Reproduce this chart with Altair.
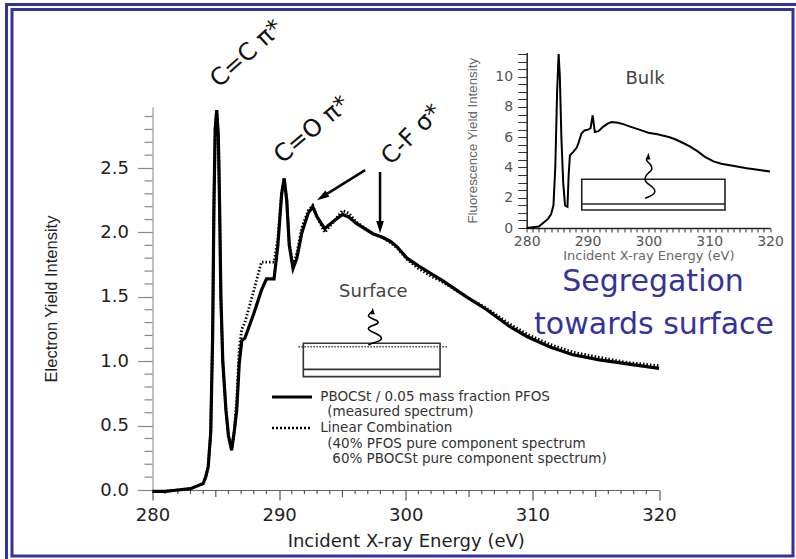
import altair as alt
import pandas as pd

# ---------------- C K-edge NEXAFS, electron yield (surface sensitive) ----------------
energy = [280.0, 281.0, 282.0, 283.0, 283.5, 284.0, 284.2, 284.4, 284.6, 284.75,
          284.85, 284.95, 285.07, 285.2, 285.3, 285.4, 285.55, 285.8, 286.0, 286.25,
          286.45, 286.65, 286.85, 287.05, 287.3, 288.0, 288.6, 289.0, 289.6, 289.9,
          290.2, 290.4, 290.6, 290.8, 291.1, 291.4, 291.8, 292.3, 292.65, 293.0,
          293.6, 294.2, 295.0, 295.5, 296.1, 297.4, 298.2, 298.8, 299.3, 300.1,
          301.0, 302.0, 303.0, 304.8, 306.4, 308.2, 309.6, 311.4, 313.2, 315.3,
          317.5, 320.0]
measured = [-0.01, -0.01, 0.0, 0.01, 0.03, 0.05, 0.1, 0.18, 0.45, 1.2,
            2.2, 2.8, 2.95, 2.75, 2.2, 1.5, 1.0, 0.62, 0.42, 0.31,
            0.45, 0.62, 0.98, 1.16, 1.18, 1.37, 1.55, 1.64, 1.64, 1.9,
            2.3, 2.42, 2.25, 1.9, 1.72, 1.8, 2.0, 2.15, 2.2, 2.12,
            2.03, 2.08, 2.14, 2.12, 2.07, 1.99, 1.96, 1.93, 1.89, 1.80,
            1.74, 1.68, 1.62, 1.50, 1.40, 1.27, 1.19, 1.11, 1.05, 1.01,
            0.98, 0.945]
linear_comb = [-0.01, -0.01, 0.0, 0.01, 0.03, 0.05, 0.1, 0.18, 0.45, 1.2,
               2.2, 2.8, 2.95, 2.75, 2.2, 1.5, 1.0, 0.62, 0.42, 0.31,
               0.45, 0.7, 1.1, 1.25, 1.3, 1.55, 1.77, 1.77, 1.77, 1.95,
               2.3, 2.42, 2.25, 1.92, 1.74, 1.84, 2.04, 2.17, 2.21, 2.12,
               2.0, 2.07, 2.17, 2.15, 2.08, 1.99, 1.96, 1.92, 1.88, 1.79,
               1.72, 1.66, 1.61, 1.50, 1.41, 1.29, 1.21, 1.13, 1.07, 1.03,
               0.99, 0.965]

# ---------------- inset: fluorescence yield (bulk sensitive) ----------------
bulk_energy = [280.0, 281.0, 282.0, 282.7, 283.5, 284.0, 284.4, 284.7, 285.0, 285.25,
               285.45, 285.7, 286.0, 286.3, 286.7, 286.9, 287.1, 287.7, 288.2, 288.5,
               289.0, 289.5, 290.1, 290.5, 290.85, 291.2, 291.8, 292.6, 293.3, 294.0,
               295.0, 296.0, 297.0, 298.5, 300.0, 301.5, 302.5, 303.5, 304.5, 305.8,
               306.8, 308.0, 309.3, 310.7, 312.0, 313.4, 314.8, 316.2, 318.0, 320.0]
bulk_yield = [0.0, 0.05, 0.1, 0.33, 0.6, 0.9, 1.5, 4.0, 9.0, 11.5,
              10.0, 6.0, 3.0, 1.5, 1.4, 3.5, 4.8, 5.05, 5.3, 5.6,
              6.25, 6.45, 6.5, 6.6, 7.45, 6.35, 6.4, 6.7, 6.9, 7.0,
              6.95, 6.85, 6.7, 6.5, 6.3, 6.2, 6.1, 6.0, 5.85, 5.6,
              5.4, 5.1, 4.7, 4.4, 4.25, 4.15, 4.05, 3.95, 3.85, 3.73]

# ---------------- axis tick values ----------------
x_major = [280, 290, 300, 310, 320]
x_medium = [285, 295, 305, 315]
x_minor = [e for e in range(281, 320) if e % 5 != 0]
y_major = [0.0, 0.5, 1.0, 1.5, 2.0, 2.5]
y_minor = [round(i * 0.1, 1) for i in range(1, 30) if i % 5 != 0]
inset_x_ticks = list(range(280, 321))
inset_y_ticks = [i * 0.5 for i in range(24)]

# ---------------- annotations ----------------
peak_text = ["C=C π*", "C=O π*", "C-F σ*"]
peak_e = [287.46, 292.6, 300.5]
peak_v = [3.385, 2.795, 2.757]
peak_angle = [318, 320, 315]

arrow_e0 = [296.79, 297.97]
arrow_v0 = [2.484, 2.469]
arrow_e1 = [293.40, 297.97]
arrow_v1 = [2.276, 2.042]
arrow_angle = [238, 180]

legend_text = ["PBOCSt / 0.05 mass fraction PFOS", "(measured spectrum)",
               "Linear Combination", "(40% PFOS pure component spectrum",
               "60% PBOCSt pure component spectrum)"]
legend_e = [293.25, 293.8, 293.25, 293.8, 294.2]
legend_v = [0.722, 0.602, 0.481, 0.361, 0.241]
legend_line_e = [289.44, 292.6]
legend_solid_v = 0.722
legend_dotted_v = 0.481

# surface-sensitivity sketch (main axes units)
surf_box = dict(x0=291.91, x1=302.71, y0=0.880, y1=1.139)
surf_layer_v = 0.937
surf_top = dict(x0=291.52, x1=303.36, y=1.113)
surf_wave_e = [297.05, 297.31, 298.23, 297.97, 296.97, 297.05, 297.97, 297.71, 296.92, 297.18, 297.39]
surf_wave_v = [1.126, 1.139, 1.165, 1.203, 1.242, 1.268, 1.294, 1.320, 1.345, 1.372, 1.39]
surf_label = ("Surface", 297.44, 1.540)

# bulk-sensitivity sketch (inset axes units)
bulk_box = dict(x0=289.05, x1=312.6, y0=1.19, y1=3.22)
bulk_layer_v = 1.59
bulk_wave_e = [299.46, 301.38, 300.82, 299.18, 299.74, 300.82, 300.28, 299.46, 300.0]
bulk_wave_v = [1.96, 2.29, 2.73, 3.06, 3.62, 3.83, 4.28, 4.49, 4.75]
bulk_label = ("Bulk", 299.46, 9.85)

slide_text = ["Segregation", "towards surface"]
slide_e = [319.53, 319.61]
slide_v = [1.545, 1.211]

# ---------------- layout ----------------
W, H = 506.5, 383
PAD = {"left": 152.5, "top": 107, "right": 137, "bottom": 69}
FONT = "DejaVu Sans"
BLUE = "#333399"
ARROW = "M0,-1L0.62,1L-0.62,1Z"

X_MAIN = alt.Scale(domain=[280, 320], nice=False, zero=False)
Y_MAIN = alt.Scale(domain=[0, 2.974], nice=False, zero=False)
AX_X = alt.Axis(orient="bottom", title="Incident X-ray Energy (eV)", values=x_major, format="d",
                grid=False, tickSize=10, tickColor="#555", tickWidth=1.2,
                domainColor="#666", domainWidth=1.2, labelFont=FONT, labelFontSize=18,
                labelColor="#222", labelPadding=6, labelFlush=False,
                titleFont=FONT, titleFontSize=18, titleFontWeight="normal",
                titleColor="#222", titlePadding=8)
AX_Y = alt.Axis(orient="left", title="Electron Yield Intensity", values=y_major, format=".1f",
                grid=False, tickSize=15, tickColor="#888", tickWidth=1.2,
                domainColor="#999", domainWidth=1.2, labelFont=FONT, labelFontSize=18,
                labelColor="#222", labelPadding=9,
                titleFont="Liberation Sans", titleFontSize=16.5, titleFontWeight="normal",
                titleColor="#222", titlePadding=40)


def mx(f):
    return alt.X(f, type="quantitative", scale=X_MAIN, axis=AX_X)


def my(f):
    return alt.Y(f, type="quantitative", scale=Y_MAIN, axis=AX_Y)


X_IN = alt.Scale(domain=[280, 320], range=[374.2, 617.5], nice=False, zero=False)
Y_IN = alt.Scale(domain=[0, 11.6], range=[121, -54.5], nice=False, zero=False)
AX_XI = alt.Axis(orient="bottom", offset=-262, title="Incident X-ray  Energy  (eV)",
                 values=inset_x_ticks, format="d",
                 labelExpr="datum.value % 10 == 0 ? datum.label : ''",
                 grid=False, tickSize=4, tickColor="#333", tickWidth=1,
                 domainColor="#222", domainWidth=1.5, labelFont=FONT, labelFontSize=14,
                 labelColor="#555", labelPadding=2, labelFlush=False, labelOverlap=False,
                 titleFont=FONT, titleFontSize=13, titleFontWeight="normal",
                 titleColor="#666", titlePadding=1)
AX_YI = alt.Axis(orient="left", offset=-374.2, title="Fluorescence Yield Intensity",
                 values=inset_y_ticks,
                 labelExpr="datum.value % 2 == 0 ? format(datum.value, 'd') : ''",
                 grid=False, tickSize=9, tickColor="#333", tickWidth=1,
                 domainColor="#222", domainWidth=1.5, labelFont=FONT, labelFontSize=14,
                 labelColor="#555", labelPadding=5, labelOverlap=False,
                 titleFont="Liberation Sans", titleFontSize=13.3, titleFontWeight="normal",
                 titleColor="#666", titlePadding=15)


def ix(f):
    return alt.X(f, type="quantitative", scale=X_IN, axis=AX_XI)


def iy(f):
    return alt.Y(f, type="quantitative", scale=Y_IN, axis=AX_YI)


one = pd.DataFrame({"k": [0]})

# ---------------- main panel ----------------
frame_outer = alt.Chart(one).mark_rect(fillOpacity=0, stroke=BLUE, strokeWidth=3).encode(
    x=alt.value(-146), x2=alt.value(648), y=alt.value(-102.5), y2=alt.value(458))
frame_inner = alt.Chart(one).mark_rect(fillOpacity=0, stroke=BLUE, strokeWidth=3).encode(
    x=alt.value(-140.5), x2=alt.value(640.5), y=alt.value(-97.5), y2=alt.value(449))

spec = pd.DataFrame({"e": energy, "m": measured, "l": linear_comb})
solid = alt.Chart(spec).mark_line(color="black", strokeWidth=3.2).encode(x=mx("e"), y=my("m"))
dotted = alt.Chart(spec).mark_line(color="black", strokeWidth=2.8, strokeDash=[1.5, 2]).encode(
    x=mx("e"), y=my("l"))

y_minor_ticks = alt.Chart(pd.DataFrame({"v": y_minor})).mark_rule(color="#888", strokeWidth=1.2).encode(
    y=my("v"), x=alt.value(-8), x2=alt.value(0))
x_med_ticks = alt.Chart(pd.DataFrame({"e": x_medium})).mark_rule(color="#555", strokeWidth=1.2).encode(
    x=mx("e"), y=alt.value(H), y2=alt.value(H + 7))
x_minor_ticks = alt.Chart(pd.DataFrame({"e": x_minor})).mark_rule(color="#555", strokeWidth=1.2).encode(
    x=mx("e"), y=alt.value(H), y2=alt.value(H + 4))

peaks = alt.Chart(pd.DataFrame({"t": peak_text, "e": peak_e, "v": peak_v, "a": peak_angle})).mark_text(
    font=FONT, fontSize=24, color="#111", align="center", baseline="middle").encode(
    x=mx("e"), y=my("v"), text="t:N", angle=alt.Angle("a:Q", scale=None))

arrows_df = pd.DataFrame({"e0": arrow_e0, "v0": arrow_v0, "e1": arrow_e1, "v1": arrow_v1, "a": arrow_angle})
arrow_lines = alt.Chart(arrows_df).mark_rule(color="black", strokeWidth=2.5).encode(
    x=mx("e0"), y=my("v0"), x2=alt.X2("e1"), y2=alt.Y2("v1"))
arrow_heads = alt.Chart(arrows_df).mark_point(shape=ARROW, filled=True, size=150, color="black", opacity=1).encode(
    x=mx("e1"), y=my("v1"), angle=alt.Angle("a:Q", scale=None))

legend_txt = alt.Chart(pd.DataFrame({"t": legend_text, "e": legend_e, "v": legend_v})).mark_text(
    font=FONT, fontSize=13.5, color="#333", align="left", baseline="middle").encode(
    x=mx("e"), y=my("v"), text="t:N")
legend_solid = alt.Chart(pd.DataFrame({"e": legend_line_e, "v": [legend_solid_v] * 2})).mark_line(
    color="black", strokeWidth=3).encode(x=mx("e"), y=my("v"))
legend_dotted = alt.Chart(pd.DataFrame({"e": legend_line_e, "v": [legend_dotted_v] * 2})).mark_line(
    color="black", strokeWidth=2.5, strokeDash=[2, 2]).encode(x=mx("e"), y=my("v"))

surf_rect = alt.Chart(pd.DataFrame([surf_box])).mark_rect(fillOpacity=0, stroke="#333", strokeWidth=1.6).encode(
    x=mx("x0"), x2=alt.X2("x1"), y=my("y0"), y2=alt.Y2("y1"))
surf_layer = alt.Chart(pd.DataFrame([dict(x0=surf_box["x0"], x1=surf_box["x1"], y=surf_layer_v)])).mark_rule(
    color="#333", strokeWidth=1.6).encode(x=mx("x0"), x2=alt.X2("x1"), y=my("y"))
surf_dots = alt.Chart(pd.DataFrame([surf_top])).mark_rule(color="#444", strokeWidth=1.5, strokeDash=[1.5, 1.5]).encode(
    x=mx("x0"), x2=alt.X2("x1"), y=my("y"))
surf_wave = alt.Chart(pd.DataFrame({"i": range(len(surf_wave_e)), "e": surf_wave_e, "v": surf_wave_v})).mark_line(
    color="black", strokeWidth=1.6, interpolate="basis").encode(x=mx("e"), y=my("v"), order="i:Q")
surf_tip = alt.Chart(pd.DataFrame({"e": [surf_wave_e[-1]], "v": [surf_wave_v[-1]]})).mark_point(
    shape=ARROW, filled=True, size=45, color="black", opacity=1).encode(x=mx("e"), y=my("v"))
surf_txt = alt.Chart(pd.DataFrame({"t": [surf_label[0]], "e": [surf_label[1]], "v": [surf_label[2]]})).mark_text(
    font=FONT, fontSize=18, color="#444", align="center", baseline="middle").encode(
    x=mx("e"), y=my("v"), text="t:N")

slide = alt.Chart(pd.DataFrame({"t": slide_text, "e": slide_e, "v": slide_v})).mark_text(
    font=FONT, fontSize=30, color=BLUE, align="center", baseline="alphabetic").encode(
    x=mx("e"), y=my("v"), text="t:N")

main = alt.layer(frame_outer, frame_inner, y_minor_ticks, x_med_ticks, x_minor_ticks,
                 solid, dotted, arrow_lines, arrow_heads, peaks,
                 legend_solid, legend_dotted, legend_txt,
                 surf_rect, surf_layer, surf_dots, surf_wave, surf_tip, surf_txt, slide)

# ---------------- inset panel ----------------
bulk_line = alt.Chart(pd.DataFrame({"e": bulk_energy, "v": bulk_yield})).mark_line(
    color="black", strokeWidth=2).encode(x=ix("e"), y=iy("v"))
bulk_rect = alt.Chart(pd.DataFrame([bulk_box])).mark_rect(fillOpacity=0, stroke="#222", strokeWidth=1.6).encode(
    x=ix("x0"), x2=alt.X2("x1"), y=iy("y0"), y2=alt.Y2("y1"))
bulk_layer = alt.Chart(pd.DataFrame([dict(x0=bulk_box["x0"], x1=bulk_box["x1"], y=bulk_layer_v)])).mark_rule(
    color="#222", strokeWidth=1.6).encode(x=ix("x0"), x2=alt.X2("x1"), y=iy("y"))
bulk_wave = alt.Chart(pd.DataFrame({"i": range(len(bulk_wave_e)), "e": bulk_wave_e, "v": bulk_wave_v})).mark_line(
    color="black", strokeWidth=1.5, interpolate="basis").encode(x=ix("e"), y=iy("v"), order="i:Q")
bulk_tip = alt.Chart(pd.DataFrame({"e": [bulk_wave_e[-1]], "v": [bulk_wave_v[-1]]})).mark_point(
    shape=ARROW, filled=True, size=45, color="black", opacity=1).encode(x=ix("e"), y=iy("v"))
bulk_txt = alt.Chart(pd.DataFrame({"t": [bulk_label[0]], "e": [bulk_label[1]], "v": [bulk_label[2]]})).mark_text(
    font=FONT, fontSize=18, color="#444", align="center", baseline="middle").encode(
    x=ix("e"), y=iy("v"), text="t:N")

inset = alt.layer(bulk_line, bulk_rect, bulk_layer, bulk_wave, bulk_tip, bulk_txt)

chart = alt.layer(inset, main).resolve_scale(
    x="independent", y="independent"
).resolve_axis(
    x="independent", y="independent"
).properties(
    width=W, height=H, padding=PAD, autosize=alt.AutoSizeParams(type="none"),
    background="white"
).configure_view(strokeOpacity=0)

chart.save("out.html", embed_options={"renderer": "svg", "actions": False})
